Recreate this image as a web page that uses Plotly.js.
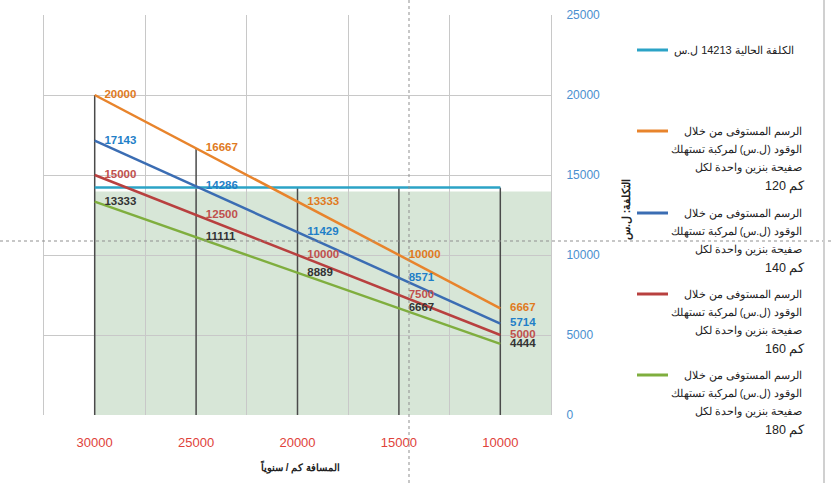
<!DOCTYPE html>
<html>
<head>
<meta charset="utf-8">
<script src="https://cdn.plot.ly/plotly-3.0.1.min.js"></script>
<style>
html,body{margin:0;padding:0;background:#ffffff;}
#chart{width:832px;height:483px;}
</style>
</head>
<body>
<div id="chart"></div>
<script>
// ---- data ----
var categories = ['30000', '25000', '20000', '15000', '10000'];
var currentCost = [14213, 14213, 14213, 14213, 14213];
var cost120 = [20000, 16667, 13333, 10000, 6667];
var cost140 = [17143, 14286, 11429, 8571, 5714];
var cost160 = [15000, 12500, 10000, 7500, 5000];
var cost180 = [13333, 11111, 8889, 6667, 4444];
var yTicks = [0, 5000, 10000, 15000, 20000, 25000];

var legendCurrent = 'الكلفة الحالية 14213 ل.س';
var legendLines = [
  ['الرسم المستوفى من خلال', 'الوقود (ل.س) لمركبة تستهلك', 'صفيحة بنزين واحدة لكل', '\u200E120 كم'],
  ['الرسم المستوفى من خلال', 'الوقود (ل.س) لمركبة تستهلك', 'صفيحة بنزين واحدة لكل', '\u200E140 كم'],
  ['الرسم المستوفى من خلال', 'الوقود (ل.س) لمركبة تستهلك', 'صفيحة بنزين واحدة لكل', '\u200E160 كم'],
  ['الرسم المستوفى من خلال', 'الوقود (ل.س) لمركبة تستهلك', 'صفيحة بنزين واحدة لكل', '\u200E180 كم']
];
var xTitle = 'المسافة كم / سنوياً';
var yTitle = 'التكلفة: ل.س';

// ---- styling ----
var W = 832, H = 483;
var L = 44, R = 551, T = 15, B = 415;
var pw = R - L, ph = B - T;
function px(x){ return (x - L) / pw; }
function py(y){ return (B - y) / ph; }

var lineColors = ['#2ba3c6', '#e8842c', '#3b6db3', '#b8403f', '#7fae3e'];
var labelColors = [null, '#e07a1e', '#1f7fc8', '#c0504d', '#333333'];
var series = [cost120, cost140, cost160, cost180];

// drop lines from highest value to axis
var dropX = [], dropY = [];
categories.forEach(function(c, i){
  var m = Math.max(currentCost[i], cost120[i], cost140[i], cost160[i], cost180[i]);
  dropX.push(c, c, null); dropY.push(0, m, null);
});

var traces = [];
traces.push({x: dropX, y: dropY, mode: 'lines', line: {color: '#4a4a4a', width: 1.5},
  hoverinfo: 'skip', showlegend: false});
traces.push({x: categories, y: currentCost, mode: 'lines', line: {color: lineColors[0], width: 2.5},
  showlegend: false, name: legendCurrent});
series.forEach(function(s, k){
  traces.push({x: categories, y: s, mode: 'lines+markers+text',
    line: {color: lineColors[k+1], width: 2.5},
    marker: {size: 14, opacity: 0, color: lineColors[k+1]},
    text: s.map(String), textposition: 'middle right',
    textfont: {family: 'Liberation Sans, Arial, sans-serif', size: 11.5, color: labelColors[k+1], weight: 'bold'},
    cliponaxis: false, showlegend: false});
});

var shapes = [
  // shaded region under current cost
  {type: 'rect', xref: 'x', yref: 'y', x0: 0, x1: 4.5, y0: 0, y1: currentCost[0] - 250,
   fillcolor: 'rgba(150,190,150,0.38)', line: {width: 0}, layer: 'below'},
  // guide lines
  {type: 'line', xref: 'paper', yref: 'paper', x0: px(0), x1: px(W), y0: py(241), y1: py(241),
   line: {color: '#8f8f8f', width: 1, dash: '3px,3px'}},
  {type: 'line', xref: 'paper', yref: 'paper', x0: px(409), x1: px(409), y0: py(H), y1: py(0),
   line: {color: '#8f8f8f', width: 1, dash: '3px,3px'}},
  {type: 'line', xref: 'paper', yref: 'paper', x0: px(824), x1: px(824), y0: py(H), y1: py(0),
   line: {color: '#d0d0d0', width: 2}}
];

var annotations = [];
var font = 'Liberation Sans, Arial, sans-serif';
// legend: current cost
var legendY = [50, 131, 213, 294, 375];
shapes.push({type: 'line', xref: 'paper', yref: 'paper', x0: px(637), x1: px(668), y0: py(legendY[0]), y1: py(legendY[0]),
  line: {color: lineColors[0], width: 3}});
annotations.push({xref: 'paper', yref: 'paper', x: px(796), y: py(legendY[0]), xanchor: 'right', yanchor: 'middle',
  text: legendCurrent, showarrow: false, font: {family: font, size: 11, color: '#222'}});
legendLines.forEach(function(lines, k){
  var y0 = legendY[k+1];
  shapes.push({type: 'line', xref: 'paper', yref: 'paper', x0: px(637), x1: px(668), y0: py(y0), y1: py(y0),
    line: {color: lineColors[k+1], width: 3}});
  lines.forEach(function(t, j){
    var isLast = j === lines.length - 1;
    annotations.push({xref: 'paper', yref: 'paper', x: px(isLast ? 807 : 804), y: py(y0 + j * 18 + (isLast ? 1 : 0)),
      xanchor: 'right', yanchor: 'middle', text: t, showarrow: false,
      font: {family: font, size: isLast ? 12.5 : 10.5, color: '#222'}});
  });
});
// axis titles
annotations.push({xref: 'paper', yref: 'paper', x: px(300), y: py(467), xanchor: 'center', yanchor: 'middle',
  text: '<b>' + xTitle + '</b>', showarrow: false, font: {family: font, size: 10, color: '#222'}});
annotations.push({xref: 'paper', yref: 'paper', x: px(626), y: py(210), xanchor: 'center', yanchor: 'middle',
  text: '<b>' + yTitle + '</b>', textangle: -90, showarrow: false, font: {family: font, size: 10.5, color: '#222'}});

var layout = {
  width: W, height: H,
  margin: {l: L, r: W - R, t: T, b: H - B, pad: 0},
  paper_bgcolor: '#ffffff', plot_bgcolor: 'rgba(0,0,0,0)',
  showlegend: false,
  font: {family: font},
  xaxis: {type: 'category', categoryarray: categories, categoryorder: 'array',
    range: [-0.5, 4.5], tickson: 'boundaries', showgrid: true, gridcolor: '#c8c8c8', gridwidth: 1,
    ticks: '', ticklabelstandoff: 18,
    tickfont: {family: font, size: 13, color: '#e0423a'}, zeroline: false, showline: false, fixedrange: true},
  yaxis: {range: [0, 25000], tickvals: yTicks, ticktext: yTicks.map(String), side: 'right',
    showgrid: true, gridcolor: '#c8c8c8', gridwidth: 1, zeroline: false,
    ticks: 'outside', ticklen: 12, tickcolor: 'rgba(0,0,0,0)',
    tickfont: {family: font, size: 12, color: '#4a8fcf'},
    showline: true, mirror: true, linecolor: '#c8c8c8', linewidth: 1, fixedrange: true},
  shapes: shapes,
  annotations: annotations
};

Plotly.newPlot('chart', traces, layout, {displayModeBar: false, staticPlot: true});
</script>
</body>
</html>
